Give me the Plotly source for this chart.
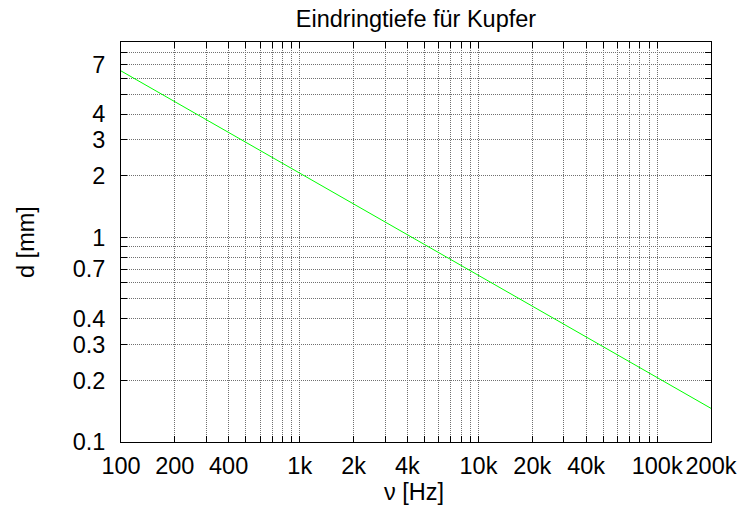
import plotly.graph_objects as go

# Data (skin depth of copper)
freq_hz = [100, 1000, 10000, 100000, 200000]
depth_mm = [6.5, 2.06, 0.65, 0.206, 0.146]

title_text = "Eindringtiefe für Kupfer"
x_title = "ν [Hz]"
y_title = "d [mm]"

x_grid_vals = [100, 200, 300, 400, 500, 600, 700, 800, 900,
               1000, 2000, 3000, 4000, 5000, 6000, 7000, 8000, 9000,
               10000, 20000, 30000, 40000, 50000, 60000, 70000, 80000, 90000,
               100000, 200000]
x_labels = {100: "100", 200: "200", 400: "400", 1000: "1k", 2000: "2k", 4000: "4k",
            10000: "10k", 20000: "20k", 40000: "40k", 100000: "100k", 200000: "200k"}

y_grid_vals = [0.1, 0.2, 0.3, 0.4, 0.5, 0.6, 0.7, 0.8, 0.9,
               1, 2, 3, 4, 5, 6, 7, 8]
y_labels = {0.1: "0.1", 0.2: "0.2", 0.3: "0.3", 0.4: "0.4", 0.7: "0.7",
            1: "1", 2: "2", 3: "3", 4: "4", 7: "7"}

FONT = "Liberation Sans, Arial, Helvetica, sans-serif"
FS = 23.5
W, H = 739, 506
ML, MR, MT, MB = 121, 28, 42, 64
PW, PH = W - ML - MR, H - MT - MB

fig = go.Figure()
fig.add_trace(go.Scatter(x=freq_hz, y=depth_mm, mode="lines",
                         line=dict(color="#00ff00", width=1), showlegend=False,
                         hoverinfo="skip"))

axis_common = dict(
    type="log", showline=True, linecolor="black", linewidth=1, mirror="allticks",
    ticks="inside", ticklen=6, tickcolor="black", tickwidth=1,
    showgrid=True, gridcolor="#707070", gridwidth=1, griddash="1px,1px",
    zeroline=False, automargin=False,
    tickfont=dict(family=FONT, size=FS, color="black"),
)

fig.update_xaxes(**axis_common,
                 range=[2, 5.30103],
                 tickmode="array", tickvals=x_grid_vals,
                 ticktext=[x_labels.get(v, "") for v in x_grid_vals],
                 ticklabelstandoff=3)
fig.update_yaxes(**axis_common,
                 range=[-1, 0.9542],
                 tickmode="array", tickvals=y_grid_vals,
                 ticktext=[y_labels.get(v, "") for v in y_grid_vals],
                 ticklabelstandoff=10)

fig.add_annotation(text=x_title, xref="paper", yref="paper",
                   x=(414 - ML) / PW, y=-(492 - (H - MB)) / PH,
                   xanchor="center", yanchor="middle", showarrow=False,
                   font=dict(family=FONT, size=FS, color="black"))
fig.add_annotation(text=y_title, xref="paper", yref="paper",
                   x=(26 - ML) / PW, y=0.5, textangle=-90,
                   xanchor="center", yanchor="middle", showarrow=False,
                   font=dict(family=FONT, size=FS, color="black"))

fig.update_layout(
    width=W, height=H,
    margin=dict(l=ML, r=MR, t=MT, b=MB, autoexpand=False),
    paper_bgcolor="white", plot_bgcolor="white",
    font=dict(family=FONT, size=FS, color="black"),
    title=dict(text=title_text, x=0.5, xref="paper", xanchor="center",
               y=1 - 19 / H, yref="container", yanchor="middle",
               font=dict(family=FONT, size=FS, color="black"), automargin=False),
)

fig.write_html("out.html", config={"displayModeBar": False, "staticPlot": True},
               post_script="document.body.style.margin='0';document.body.style.overflow='hidden';")
